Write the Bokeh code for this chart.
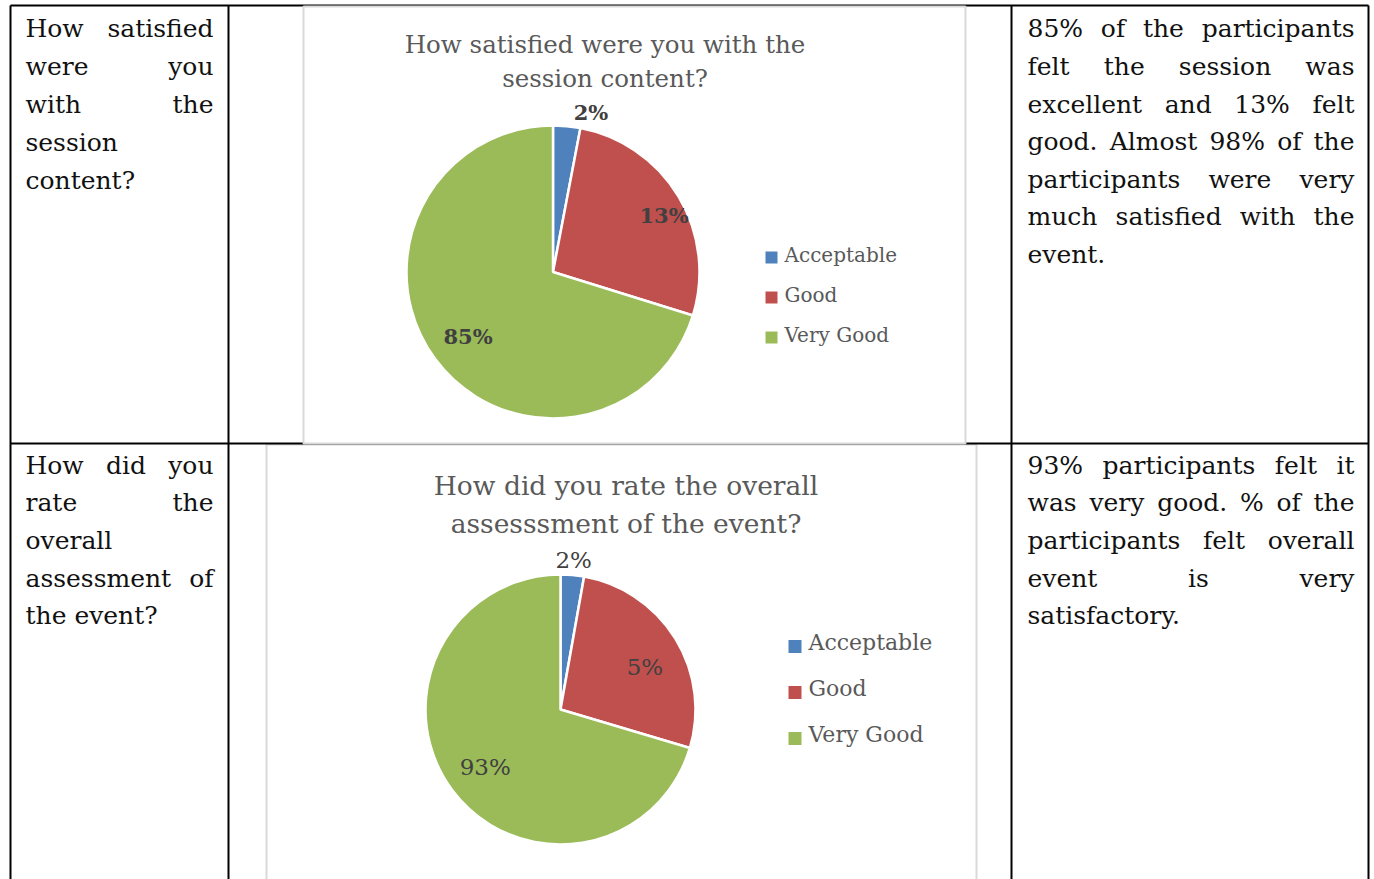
import math
from bokeh.plotting import figure
from bokeh.models import ColumnDataSource, Range1d
from bokeh.core.properties import value
from bokeh.embed import file_html
from bokeh.resources import INLINE

# ---------------- data ----------------
categories = ["Acceptable", "Good", "Very Good"]
slice_colors = ["#4f81bd", "#c0504d", "#9bbb59"]

session_shares = [3.0, 26.8, 70.2]          # slice sizes as drawn
session_labels = ["2%", "13%", "85%"]       # data labels as printed
session_title = ["How satisfied were you with the", "session content?"]

overall_shares = [2.8, 26.8, 70.4]
overall_labels = ["2%", "5%", "93%"]
overall_title = ["How did you rate the overall", "assesssment of the event?"]

q1_lines = ["How satisfied", "were you", "with the", "session", "content?"]
a1_lines = ["85% of the participants", "felt the session was",
            "excellent and 13% felt", "good. Almost 98% of the",
            "participants were very", "much satisfied with the", "event."]
q2_lines = ["How did you", "rate the", "overall", "assessment of", "the event?"]
a2_lines = ["93% participants felt it", "was very good. % of the",
            "participants felt overall", "event is very", "satisfactory."]

# ---------------- helpers ----------------
FONT = "DejaVu Serif"
PAGE_W, PAGE_H = 1374, 879


def Y(py):
    return PAGE_H - py


_font_cache = {}


def measure(s, size, bold=False):
    key = (size, bold)
    if key not in _font_cache:
        f = None
        try:
            from PIL import ImageFont
            names = ["DejaVuSerif-Bold.ttf" if bold else "DejaVuSerif.ttf"]
            dirs = ["", "/usr/share/fonts/truetype/dejavu/", "/usr/share/fonts/dejavu/",
                    "/usr/share/fonts/TTF/", "/usr/share/fonts/dejavu-serif-fonts/"]
            for d in dirs:
                for n in names:
                    try:
                        f = ImageFont.truetype(d + n, size)
                        break
                    except Exception:
                        pass
                if f is not None:
                    break
        except Exception:
            f = None
        _font_cache[key] = f
    f = _font_cache[key]
    if f is not None:
        return f.getlength(s)
    return len(s) * 0.56 * size


def paragraph(lines, left, right, ys, size):
    xs, yy, ws = [], [], []
    for i, (line, y) in enumerate(zip(lines, ys)):
        words = line.split()
        last = (i == len(lines) - 1)
        if last or len(words) == 1:
            xs.append(left); yy.append(y); ws.append(line)
            continue
        widths = [measure(w, size) for w in words]
        gap = (right - left - sum(widths)) / (len(words) - 1)
        gap = max(gap, 0.2 * size)
        x = left
        for w, wd in zip(words, widths):
            xs.append(x); yy.append(y); ws.append(w)
            x += wd + gap
    return dict(x=xs, y=[Y(v) for v in yy], t=ws)


# ---------------- figure ----------------
W, H = PAGE_W, PAGE_H
p = figure(width=W, height=H, x_range=Range1d(0, W), y_range=Range1d(0, H),
           output_backend="svg", toolbar_location=None, min_border=0,
           x_axis_location=None, y_axis_location=None)
p.grid.visible = False
p.outline_line_color = None
p.background_fill_color = "white"
p.border_fill_color = "white"

GRAY_BORDER = "#d9d9d9"

# chart 2 frame (below table rules)
p.quad(left=[266], right=[976], top=[Y(444)], bottom=[Y(920)],
       fill_color="white", line_color=GRAY_BORDER, line_width=2)

# table rules
p.segment(x0=[10, 228, 1011, 1368, 10, 10], y0=[Y(5), Y(5), Y(5), Y(5), Y(5), Y(443)],
          x1=[10, 228, 1011, 1368, 1368, 1368], y1=[Y(920), Y(920), Y(920), Y(920), Y(5), Y(443)],
          line_color="black", line_width=2)

# chart 1 frame
p.quad(left=[303], right=[965], top=[Y(6)], bottom=[Y(443)],
       fill_color="white", line_color=GRAY_BORDER, line_width=2)


def pie(shares, labels, cx, cy, r, label_pos, bold, label_size,
        title, title_cx, title_ys, title_size,
        leg_x, leg_ys, leg_sq, leg_text_dy, leg_size):
    total = float(sum(shares))
    cum = 0.0
    starts, ends, mids = [], [], []
    for s in shares:
        a0 = math.pi / 2 - 2 * math.pi * cum / total
        cum += s
        a1 = math.pi / 2 - 2 * math.pi * cum / total
        starts.append(a0); ends.append(a1); mids.append((a0 + a1) / 2)
    src = ColumnDataSource(dict(start=starts, end=ends, color=slice_colors, cat=categories))
    p.wedge(x=cx, y=Y(cy), radius=r, start_angle="start", end_angle="end",
            direction="clock", fill_color="color", line_color="white", line_width=2.5,
            source=src)
    # data labels
    lx, ly = [], []
    for m, (dang, rf) in zip(mids, label_pos):
        ang = m + math.radians(dang)
        lx.append(cx + rf * r * math.cos(ang))
        ly.append(Y(cy) + rf * r * math.sin(ang))
    p.text(x=lx, y=ly, text=labels, text_align="center", text_baseline="middle",
           text_font=value(FONT), text_font_size=value(f"{label_size}px"),
           text_font_style="bold" if bold else "normal", text_color="#404040")
    # title
    p.text(x=[title_cx] * len(title), y=[Y(v) for v in title_ys], text=title,
           text_align="center", text_baseline="middle", text_font=value(FONT),
           text_font_size=value(f"{title_size}px"), text_color="#595959")
    # legend
    p.rect(x=[leg_x] * 3, y=[Y(v) for v in leg_ys], width=leg_sq, height=leg_sq,
           fill_color=slice_colors, line_color=None)
    p.text(x=[leg_x + leg_sq / 2 + 7] * 3, y=[Y(v - leg_text_dy) for v in leg_ys],
           text=categories, text_align="left", text_baseline="middle",
           text_font=value(FONT), text_font_size=value(f"{leg_size}px"),
           text_color="#595959")


pie(session_shares, session_labels, 552.5, 271.5, 146.5,
    [(-8, 1.12), (-4, 0.85), (1, 0.73)], True, 21,
    session_title, 604.5, [44, 78], 24.5,
    771, [257, 297, 337], 12, 3, 20)

pie(overall_shares, overall_labels, 560, 709, 135,
    [(0, 1.11), (-5, 0.70), (0.5, 0.70)], False, 23,
    overall_title, 625.5, [485, 523], 26.5,
    794.5, [646, 692, 738], 13, 4, 22)

# table text
BODY = 25
for lines, L, R, ys in [
    (q1_lines, 25, 213, [28, 66, 104, 142, 180]),
    (a1_lines, 1027, 1354, [28, 66, 104, 141, 179, 216, 254]),
    (q2_lines, 25, 213, [465, 502, 540, 578, 615]),
    (a2_lines, 1027, 1354, [465, 502, 540, 578, 615]),
]:
    d = paragraph(lines, L, R, ys, BODY)
    p.text(x=d["x"], y=d["y"], text=d["t"], text_align="left", text_baseline="middle",
           text_font=value(FONT), text_font_size=value(f"{BODY}px"), text_color="#111111")

open("out.html", "w").write(file_html(p, INLINE))
